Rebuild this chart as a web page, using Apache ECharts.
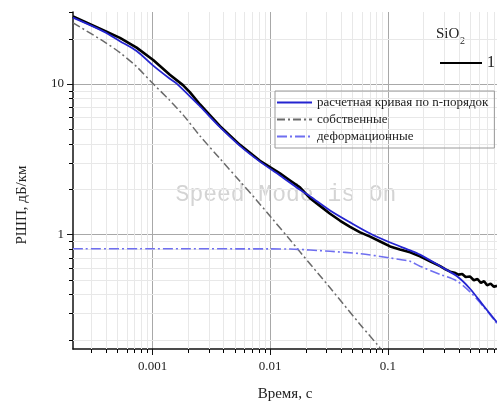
<!DOCTYPE html>
<html>
<head>
<meta charset="utf-8">
<script src="https://cdn.jsdelivr.net/npm/echarts@6/dist/echarts.min.js"></script>
<style>
  html, body { margin: 0; padding: 0; background: #fff; }
  #chart { width: 497px; height: 407px; }
</style>
</head>
<body>
<div id="chart"></div>
<script>
// кривая 1 (SiO2, эксперимент)
var tMeas = [0.00021, 0.00038, 0.000527, 0.00073, 0.00101, 0.0014, 0.00181, 0.00207, 0.00253, 0.00308, 0.00374,
  0.00553, 0.00818, 0.0121, 0.01475, 0.0179, 0.0218, 0.0265, 0.0323, 0.0394, 0.0478, 0.0582, 0.0708, 0.0861,
  0.1047, 0.127, 0.155, 0.188, 0.229, 0.279, 0.31, 0.34, 0.37, 0.40, 0.43, 0.46, 0.50, 0.54, 0.58, 0.62,
  0.66, 0.70, 0.75, 0.80, 0.85];
var vMeas = [28.0, 22.7, 20.2, 17.4, 14.4, 11.5, 9.8, 8.8, 7.29, 6.17, 5.23,
  3.93, 3.08, 2.54, 2.28, 2.05, 1.74, 1.545, 1.37, 1.23, 1.12, 1.03, 0.966, 0.896,
  0.831, 0.794, 0.759, 0.714, 0.662, 0.614, 0.585, 0.565, 0.555, 0.54, 0.545, 0.52, 0.525, 0.495, 0.505, 0.475,
  0.488, 0.458, 0.47, 0.448, 0.455];

// расчетная кривая
var tFit = [0.00021, 0.00038, 0.000527, 0.00073, 0.00101, 0.0014, 0.00161, 0.00253, 0.00374, 0.00553, 0.00818,
  0.0121, 0.0179, 0.0218, 0.0323, 0.0478, 0.0708, 0.1047, 0.155, 0.188, 0.279, 0.386, 0.501, 0.651, 0.847];
var vFit = [27.5, 22.3, 19.2, 16.5, 13.2, 10.8, 10.0, 7.07, 5.15, 3.87, 3.04,
  2.46, 1.98, 1.79, 1.44, 1.2, 1.012, 0.882, 0.782, 0.733, 0.614, 0.528, 0.435, 0.336, 0.261];

// собственные
var tOwn = [0.00021, 0.00038, 0.000527, 0.00073, 0.00101, 0.0014, 0.00183, 0.00253, 0.00374, 0.00553, 0.00768,
  0.01, 0.01475, 0.0179, 0.0323, 0.0582, 0.0861];
var vOwn = [25.4, 19.2, 16.1, 13.0, 10.0, 7.75, 6.17, 4.50, 3.18, 2.25, 1.68,
  1.318, 0.919, 0.765, 0.441, 0.252, 0.176];

// деформационные
var tDef = [0.00021, 0.001, 0.01, 0.01475, 0.0323, 0.0582, 0.1047, 0.127, 0.155, 0.188, 0.279, 0.386, 0.501, 0.651, 0.847];
var vDef = [0.802, 0.802, 0.80, 0.798, 0.771, 0.744, 0.697, 0.68, 0.662, 0.614, 0.542, 0.49, 0.415, 0.331, 0.256];

var names = ['расчетная кривая по n-порядок', 'собственные', 'деформационные', '1'];

var X_MIN = 0.00021, X_MAX = 0.85, Y_MIN = 0.173, Y_MAX = 30;
var xDecades = [0.0001, 0.001, 0.01, 0.1];
var yDecades = [0.1, 1, 10];
var mult = [2, 3, 4, 5, 6, 7, 8, 9];

function zip(a, b) { return a.map(function (v, i) { return [v, b[i]]; }); }

var xMinor = [], yMinor = [];
xDecades.forEach(function (d) { mult.forEach(function (k) { var v = d * k; if (v > X_MIN && v < X_MAX) xMinor.push(v); }); });
yDecades.forEach(function (d) { mult.forEach(function (k) { var v = d * k; if (v > Y_MIN && v <= Y_MAX) yMinor.push(v); }); });

var serif = 'Liberation Serif';

function vGrid(params, api) {
  var a = api.coord([api.value(0), Y_MIN]), b = api.coord([api.value(0), Y_MAX]);
  var x = Math.round(a[0]) + 0.5;
  return { type: 'line', shape: { x1: x, y1: a[1], x2: x, y2: b[1] }, style: { stroke: '#e8e8e8', lineWidth: 1 } };
}
function hGrid(params, api) {
  var a = api.coord([X_MIN, api.value(1)]), b = api.coord([X_MAX, api.value(1)]);
  var y = Math.round(a[1]) + 0.5;
  if (api.value(1) >= Y_MAX) return null;
  return { type: 'line', shape: { x1: a[0], y1: y, x2: b[0], y2: y }, style: { stroke: '#e8e8e8', lineWidth: 1 } };
}
function xTick(params, api) {
  var a = api.coord([api.value(0), Y_MIN]);
  var x = Math.round(a[0]) + 0.5;
  return { type: 'line', shape: { x1: x, y1: a[1], x2: x, y2: a[1] + 4 }, style: { stroke: '#000', lineWidth: 1 } };
}
function yTick(params, api) {
  var a = api.coord([X_MIN, api.value(1)]);
  var y = Math.round(a[1]) + 0.5;
  return { type: 'line', shape: { x1: a[0] - 4, y1: y, x2: a[0], y2: y }, style: { stroke: '#000', lineWidth: 1 } };
}

var chart = echarts.init(document.getElementById('chart'));
var option = {
  animation: false,
  backgroundColor: '#fff',
  grid: { left: 73, right: 0, top: 12, bottom: 53 },
  xAxis: {
    type: 'log', logBase: 10, min: X_MIN, max: X_MAX,
    name: 'Время, с', nameLocation: 'middle', nameGap: 38,
    nameTextStyle: { fontFamily: serif, fontSize: 15, color: '#222' },
    axisLine: { onZero: false, lineStyle: { color: '#111', width: 1.5 } },
    axisTick: { length: 6, lineStyle: { color: '#111' } },
    axisLabel: { showMinLabel: false, showMaxLabel: false, margin: 11, fontFamily: serif, fontSize: 13, color: '#222' },
    splitLine: { show: true, showMinLine: false, showMaxLine: false, lineStyle: { color: '#a8a8a8', width: 1 } }
  },
  yAxis: {
    type: 'log', logBase: 10, min: Y_MIN, max: Y_MAX,
    axisLine: { onZero: false, lineStyle: { color: '#111', width: 1.5 } },
    axisTick: { length: 6, lineStyle: { color: '#111' } },
    axisLabel: { showMinLabel: false, showMaxLabel: false, margin: 9, fontFamily: serif, fontSize: 13, color: '#222' },
    splitLine: { show: true, showMinLine: false, showMaxLine: false, lineStyle: { color: '#a8a8a8', width: 1 } }
  },
  legend: [{
    data: names.slice(0, 3),
    orient: 'vertical', left: 275, top: 91,
    itemWidth: 35, itemHeight: 12, itemGap: 4,
    padding: [5, 6, 5, 1],
    borderColor: '#9a9a9a', borderWidth: 1,
    selectedMode: false,
    itemStyle: { opacity: 0 },
    textStyle: { fontFamily: serif, fontSize: 13, color: '#222' }
  }, {
    data: ['1'],
    left: 434, top: 50,
    itemWidth: 42, itemHeight: 14,
    selectedMode: false,
    itemStyle: { opacity: 0 },
    textStyle: { fontFamily: serif, fontSize: 16, color: '#222' }
  }],
  graphic: [
    { type: 'text', x: 286, y: 195, z: 0, silent: true,
      style: { text: 'Speed Mode is On', font: '23px "Liberation Mono"', fill: '#d4d4d4', align: 'center', verticalAlign: 'middle' } },
    { type: 'text', x: 436, y: 27, style: { text: 'SiO', font: '15px "Liberation Serif"', fill: '#222' } },
    { type: 'text', x: 460, y: 36, style: { text: '2', font: '10px "Liberation Serif"', fill: '#222' } },
    { type: 'text', x: 22, y: 205, rotation: Math.PI / 2,
      style: { text: 'РШП, дБ/км', font: '15px "Liberation Serif"', fill: '#222', align: 'center', verticalAlign: 'middle' } }
  ],
  series: [
    { type: 'custom', renderItem: vGrid, data: xMinor.map(function (v) { return [v, Y_MIN]; }), encode: { x: 0, y: 1 }, silent: true, z: 1 },
    { type: 'custom', renderItem: hGrid, data: yMinor.map(function (v) { return [X_MIN, v]; }), encode: { x: 0, y: 1 }, silent: true, z: 1 },
    { type: 'custom', renderItem: xTick, data: xMinor.map(function (v) { return [v, Y_MIN]; }), encode: { x: 0, y: 1 }, silent: true, clip: false, z: 1 },
    { type: 'custom', renderItem: yTick, data: yMinor.map(function (v) { return [X_MIN, v]; }), encode: { x: 0, y: 1 }, silent: true, clip: false, z: 1 },
    { name: names[3], type: 'line', data: zip(tMeas, vMeas), symbol: 'none', z: 3,
      itemStyle: { color: '#000' }, lineStyle: { color: '#000', width: 2.6 } },
    { name: names[1], type: 'line', data: zip(tOwn, vOwn), symbol: 'none', smooth: 0.3, z: 3,
      itemStyle: { color: '#6a6a6a' }, lineStyle: { color: '#6a6a6a', width: 1.5, type: [8, 3, 2, 3] } },
    { name: names[2], type: 'line', data: zip(tDef, vDef), symbol: 'none', smooth: 0.3, z: 3,
      itemStyle: { color: '#6f6ff0' }, lineStyle: { color: '#6f6ff0', width: 1.6, type: [10, 3, 2, 3] } },
    { name: names[0], type: 'line', data: zip(tFit, vFit), symbol: 'none', smooth: 0.3, z: 4,
      itemStyle: { color: '#2424d0' }, lineStyle: { color: '#2424d0', width: 1.8 } }
  ]
};
chart.setOption(option);
</script>
</body>
</html>
